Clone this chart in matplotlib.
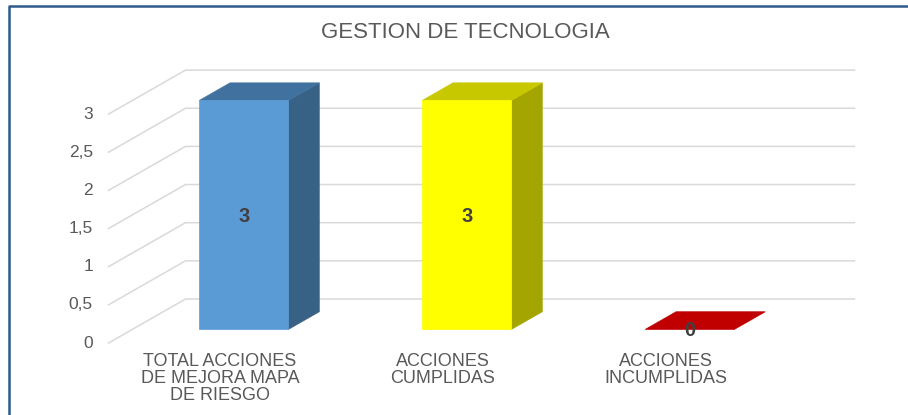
import numpy as np
import matplotlib
matplotlib.use("Agg")
import matplotlib.pyplot as plt
from matplotlib.patches import Polygon

plt.rcParams['font.family'] = ['Liberation Sans', 'DejaVu Sans']

# datos del grafico
titulo = "GESTION DE TECNOLOGIA"
categorias = ["TOTAL ACCIONES\nDE MEJORA MAPA\nDE RIESGO", "ACCIONES\nCUMPLIDAS", "ACCIONES\nINCUMPLIDAS"]
valores = [3, 3, 0]
ticks = [0, 0.5, 1, 1.5, 2, 2.5, 3]
tick_labels = ["0", "0,5", "1", "1,5", "2", "2,5", "3"]

# colores: frente, lado, tapa
col_frente = ["#5B9BD5", "#FFFF00", "#C00000"]
col_lado = ["#386285", "#A5A500", "#900000"]
col_tapa = ["#41729F", "#C8C800", "#C00000"]

# layout en pixeles -> limites de ejes (figura 908x415)
W, H = 908, 415
px_cat0, px_step = 220.0, 223.0
py_zero, py_unit = 343.0, 76.3
dx = 77.0 / px_step      # profundidad en unidades de categoria
dy = 44.0 / py_unit      # profundidad en unidades de valor
f0, f1 = 0.31, 0.71      # posicion de la barra en la profundidad
ancho = 0.40

fig = plt.figure(figsize=(W / 100, H / 100), dpi=100)
ax = fig.add_axes([0, 0, 1, 1])
ax.set_xlim(-px_cat0 / px_step, (W - px_cat0) / px_step)
ax.set_ylim((py_zero - H) / py_unit, py_zero / py_unit)
ax.axis('off')

# lineas de cuadricula (pared lateral + fondo)
x0 = -0.5
x1 = len(categorias) - 0.5
for t, lab in zip(ticks, tick_labels):
    ax.plot([x0, x0 + dx, x1 + dx], [t, t + dy, t + dy], color="#D9D9D9", lw=1.1, zorder=1)
    ax.text(x0 - 0.07, t, lab, ha='right', va='center', fontsize=12.5, color="#595959")

# barras 3D
for i, v in enumerate(valores):
    cx = i + f0 * dx
    xl, xr = cx - ancho / 2, cx + ancho / 2
    yb = f0 * dy
    ox, oy = (f1 - f0) * dx, (f1 - f0) * dy
    lado = [(xr, yb), (xr, yb + v), (xr + ox, yb + v + oy), (xr + ox, yb + oy)]
    tapa = [(xl, yb + v), (xr, yb + v), (xr + ox, yb + v + oy), (xl + ox, yb + v + oy)]
    frente = [(xl, yb), (xr, yb), (xr, yb + v), (xl, yb + v)]
    if v > 0:
        ax.add_patch(Polygon(lado, closed=True, fc=col_lado[i], ec=col_lado[i], lw=0.5, zorder=2))
    ax.add_patch(Polygon(tapa, closed=True, fc=col_tapa[i], ec=col_tapa[i], lw=0.5, zorder=2))
    if v > 0:
        ax.add_patch(Polygon(frente, closed=True, fc=col_frente[i], ec=col_frente[i], lw=0.5, zorder=3))
    ax.text(cx, yb + v / 2 - 0.02, str(v), ha='center', va='center', fontsize=14.5,
            fontweight='bold', color="#404040", zorder=4)

# etiquetas de categoria
for i, c in enumerate(categorias):
    ax.text(i, -0.135, c, ha='center', va='top', fontsize=13, color="#595959", linespacing=1.0)

fig.text(465 / W, 1 - 32 / H, titulo, ha='center', va='center', fontsize=16, color="#595959")

# borde azul (izquierda y arriba)
ax.plot([9 / W, 9 / W, 1], [0, 1 - 6 / H, 1 - 6 / H], color="#2E5B8C", lw=1.8,
        transform=ax.transAxes, clip_on=False, zorder=5)

fig.savefig("out.png", dpi=100)
